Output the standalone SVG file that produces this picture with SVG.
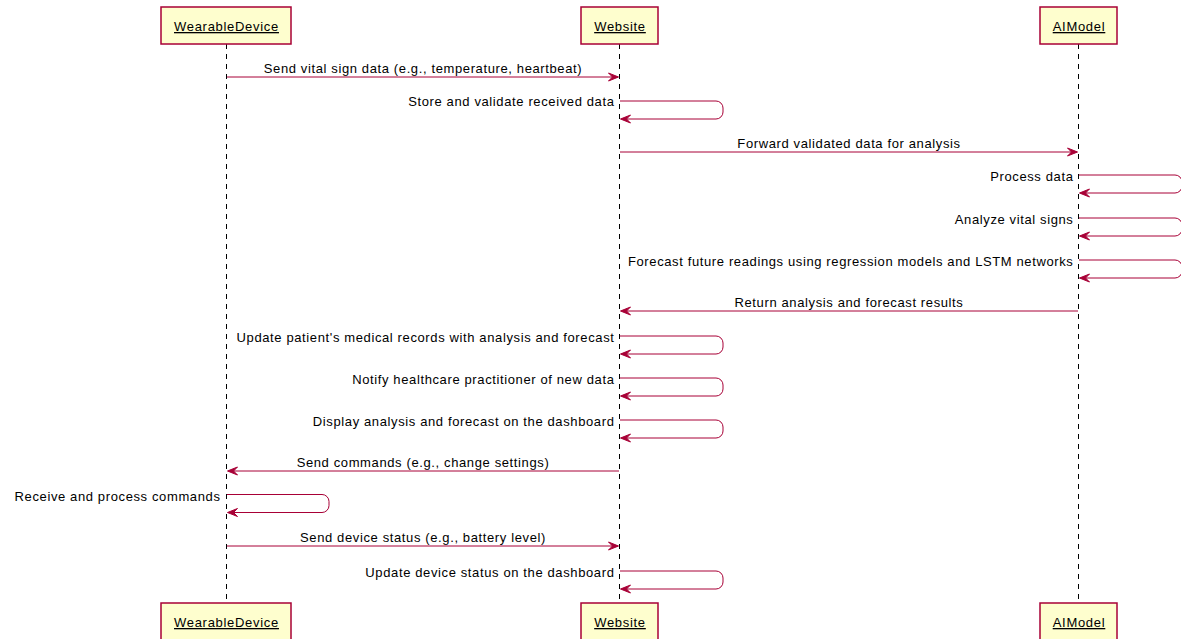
<svg xmlns="http://www.w3.org/2000/svg" width="1181" height="639" viewBox="0 0 1181 639">
  <defs>
    <style>
      .box { fill: #FEFECE; stroke: #A80036; stroke-width: 1.5; }
      .name { font-family: "Liberation Sans", Arial, sans-serif; font-size: 13px; letter-spacing: 0.7px; fill: #000000; text-anchor: middle; text-decoration: underline; }
      .life { stroke: #000000; stroke-width: 1; stroke-dasharray: 5,5; fill: none; }
      .msg { stroke: #A80036; stroke-width: 1; fill: none; }
      .head { fill: #A80036; stroke: #A80036; stroke-width: 1; }
      .lbl { font-family: "Liberation Sans", Arial, sans-serif; font-size: 13px; letter-spacing: 0.62px; fill: #000000; }
      .mid { text-anchor: middle; }
      .end { text-anchor: end; }
    </style>
    <polygon id="headR" points="-10,-4 0,0 -10,4 -6,0"/>
    <polygon id="headL" points="10,-4 0,0 10,4 6,0"/>
  </defs>
  <rect width="1181" height="639" fill="#FFFFFF"/>

  <!-- lifelines -->
  <g id="lifelines">
    <line class="life" x1="226.5" y1="44" x2="226.5" y2="603"/>
    <line class="life" x1="619.5" y1="44" x2="619.5" y2="603"/>
    <line class="life" x1="1078.5" y1="44" x2="1078.5" y2="603"/>
  </g>

  <!-- participants -->
  <g id="WearableDevice">
    <rect class="box" x="161" y="7" width="130" height="37"/>
    <text class="name" x="226.5" y="31">WearableDevice</text>
    <rect class="box" x="161" y="603" width="130" height="37"/>
    <text class="name" x="226.5" y="627">WearableDevice</text>
  </g>
  <g id="Website">
    <rect class="box" x="581" y="7" width="77" height="37"/>
    <text class="name" x="620" y="31">Website</text>
    <rect class="box" x="581" y="603" width="77" height="37"/>
    <text class="name" x="620" y="627">Website</text>
  </g>
  <g id="AIModel">
    <rect class="box" x="1040" y="7" width="77" height="37"/>
    <text class="name" x="1079" y="31">AIModel</text>
    <rect class="box" x="1040" y="603" width="77" height="37"/>
    <text class="name" x="1079" y="627">AIModel</text>
  </g>

  <!-- messages -->
  <g id="connectors">
    <!-- 1 -->
    <line class="msg" x1="227" y1="77" x2="617" y2="77"/>
    <use href="#headR" class="head" x="618.5" y="77"/>
    <text class="lbl mid" x="423" y="73">Send vital sign data (e.g., temperature, heartbeat)</text>
    <!-- 2 -->
    <path class="msg" d="M620,101 H716 A7,7 0 0 1 723,108 V112 A7,7 0 0 1 716,119 H622"/>
    <use href="#headL" class="head" x="620.5" y="119"/>
    <text class="lbl end" x="614.5" y="106">Store and validate received data</text>
    <!-- 3 -->
    <line class="msg" x1="620" y1="152" x2="1076" y2="152"/>
    <use href="#headR" class="head" x="1077.5" y="152"/>
    <text class="lbl mid" x="849" y="148">Forward validated data for analysis</text>
    <!-- 4 -->
    <path class="msg" d="M1079,175 H1175 A7,7 0 0 1 1182,182 V186 A7,7 0 0 1 1175,193 H1081"/>
    <use href="#headL" class="head" x="1079.5" y="193"/>
    <text class="lbl end" x="1073.5" y="181">Process data</text>
    <!-- 5 -->
    <path class="msg" d="M1079,218 H1175 A7,7 0 0 1 1182,225 V229 A7,7 0 0 1 1175,236 H1081"/>
    <use href="#headL" class="head" x="1079.5" y="236"/>
    <text class="lbl end" x="1073.5" y="224">Analyze vital signs</text>
    <!-- 6 -->
    <path class="msg" d="M1079,260 H1175 A7,7 0 0 1 1182,267 V271 A7,7 0 0 1 1175,278 H1081"/>
    <use href="#headL" class="head" x="1079.5" y="278"/>
    <text class="lbl end" x="1073.5" y="266">Forecast future readings using regression models and LSTM networks</text>
    <!-- 7 -->
    <line class="msg" x1="622" y1="311" x2="1078" y2="311"/>
    <use href="#headL" class="head" x="620.5" y="311"/>
    <text class="lbl mid" x="849" y="307">Return analysis and forecast results</text>
    <!-- 8 -->
    <path class="msg" d="M620,336 H716 A7,7 0 0 1 723,343 V347 A7,7 0 0 1 716,354 H622"/>
    <use href="#headL" class="head" x="620.5" y="354"/>
    <text class="lbl end" x="614.5" y="342">Update patient's medical records with analysis and forecast</text>
    <!-- 9 -->
    <path class="msg" d="M620,378 H716 A7,7 0 0 1 723,385 V389 A7,7 0 0 1 716,396 H622"/>
    <use href="#headL" class="head" x="620.5" y="396"/>
    <text class="lbl end" x="614.5" y="384">Notify healthcare practitioner of new data</text>
    <!-- 10 -->
    <path class="msg" d="M620,420 H716 A7,7 0 0 1 723,427 V431 A7,7 0 0 1 716,438 H622"/>
    <use href="#headL" class="head" x="620.5" y="438"/>
    <text class="lbl end" x="614.5" y="426">Display analysis and forecast on the dashboard</text>
    <!-- 11 -->
    <line class="msg" x1="229" y1="471" x2="619" y2="471"/>
    <use href="#headL" class="head" x="227.5" y="471"/>
    <text class="lbl mid" x="423" y="467">Send commands (e.g., change settings)</text>
    <!-- 12 -->
    <path class="msg" d="M227,494.5 H322 A7,7 0 0 1 329,501.5 V505.5 A7,7 0 0 1 322,512.5 H229"/>
    <use href="#headL" class="head" x="227.5" y="512.5"/>
    <text class="lbl end" x="220.5" y="500.5">Receive and process commands</text>
    <!-- 13 -->
    <line class="msg" x1="227" y1="546" x2="617" y2="546"/>
    <use href="#headR" class="head" x="618.5" y="546"/>
    <text class="lbl mid" x="423" y="542">Send device status (e.g., battery level)</text>
    <!-- 14 -->
    <path class="msg" d="M620,571 H716 A7,7 0 0 1 723,578 V582 A7,7 0 0 1 716,589 H622"/>
    <use href="#headL" class="head" x="620.5" y="589"/>
    <text class="lbl end" x="614.5" y="577">Update device status on the dashboard</text>
  </g>
</svg>
